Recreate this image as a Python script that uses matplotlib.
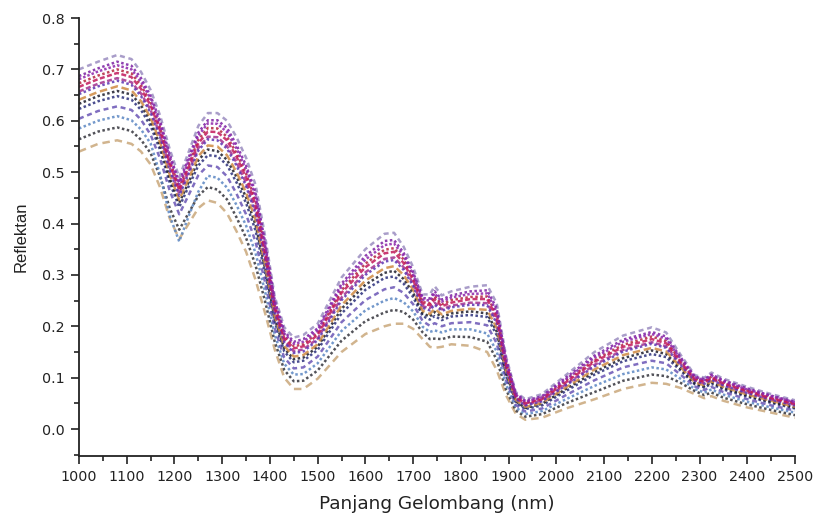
import matplotlib
matplotlib.use("Agg")
import matplotlib.pyplot as plt
from matplotlib.ticker import MultipleLocator

plt.rcParams['font.family'] = ['DejaVu Sans']

wavelength = [1000, 1040, 1080, 1110, 1130, 1150, 1170, 1190, 1210, 1230, 1250, 1270, 1290, 1310,
              1330, 1350, 1370, 1390, 1410, 1430, 1450, 1470, 1500, 1550, 1600, 1640, 1660, 1680,
              1700, 1720, 1735, 1745, 1760, 1780, 1820, 1855, 1875, 1895, 1915, 1935, 1970, 2020,
              2080, 2140, 2200, 2230, 2260, 2290, 2310, 2325, 2350, 2400, 2450, 2500]

s01 = [0.700, 0.715, 0.728, 0.720, 0.695, 0.660, 0.610, 0.545, 0.490, 0.540, 0.590, 0.615, 0.615, 0.600,
       0.568, 0.528, 0.475, 0.375, 0.258, 0.198, 0.178, 0.183, 0.205, 0.295, 0.350, 0.380, 0.382, 0.355,
       0.315, 0.262, 0.262, 0.278, 0.260, 0.268, 0.277, 0.280, 0.245, 0.140, 0.072, 0.058, 0.068, 0.105,
       0.150, 0.182, 0.198, 0.188, 0.145, 0.105, 0.100, 0.110, 0.098, 0.082, 0.068, 0.056]
s02 = [0.687, 0.702, 0.715, 0.707, 0.683, 0.648, 0.599, 0.534, 0.480, 0.529, 0.577, 0.601, 0.601, 0.586,
       0.553, 0.513, 0.460, 0.363, 0.250, 0.190, 0.170, 0.175, 0.196, 0.283, 0.337, 0.366, 0.368, 0.343,
       0.305, 0.255, 0.254, 0.268, 0.252, 0.260, 0.268, 0.270, 0.235, 0.134, 0.069, 0.055, 0.064, 0.100,
       0.143, 0.174, 0.189, 0.180, 0.140, 0.102, 0.097, 0.106, 0.095, 0.079, 0.065, 0.053]
s03 = [0.673, 0.688, 0.700, 0.692, 0.669, 0.635, 0.586, 0.522, 0.470, 0.516, 0.563, 0.586, 0.585, 0.569,
       0.537, 0.497, 0.444, 0.350, 0.241, 0.181, 0.161, 0.165, 0.187, 0.270, 0.322, 0.349, 0.352, 0.330,
       0.295, 0.247, 0.245, 0.258, 0.243, 0.251, 0.257, 0.258, 0.223, 0.127, 0.065, 0.051, 0.060, 0.094,
       0.134, 0.164, 0.180, 0.171, 0.134, 0.099, 0.093, 0.102, 0.091, 0.075, 0.062, 0.050]
s04 = [0.657, 0.672, 0.683, 0.675, 0.653, 0.621, 0.572, 0.509, 0.458, 0.502, 0.547, 0.569, 0.568, 0.551,
       0.519, 0.479, 0.425, 0.335, 0.230, 0.172, 0.151, 0.155, 0.176, 0.256, 0.305, 0.331, 0.334, 0.315,
       0.283, 0.239, 0.235, 0.246, 0.233, 0.240, 0.246, 0.245, 0.210, 0.120, 0.061, 0.047, 0.056, 0.087,
       0.125, 0.154, 0.169, 0.161, 0.127, 0.095, 0.089, 0.098, 0.086, 0.071, 0.058, 0.047]
s05 = [0.641, 0.656, 0.667, 0.659, 0.638, 0.606, 0.558, 0.495, 0.446, 0.488, 0.531, 0.552, 0.550, 0.533,
       0.500, 0.460, 0.407, 0.320, 0.220, 0.162, 0.141, 0.144, 0.165, 0.241, 0.289, 0.313, 0.317, 0.300,
       0.271, 0.230, 0.224, 0.234, 0.223, 0.230, 0.234, 0.232, 0.197, 0.112, 0.057, 0.043, 0.051, 0.081,
       0.116, 0.144, 0.158, 0.151, 0.121, 0.091, 0.085, 0.093, 0.082, 0.067, 0.055, 0.043]
s06 = [0.623, 0.638, 0.648, 0.641, 0.621, 0.590, 0.543, 0.480, 0.432, 0.473, 0.513, 0.533, 0.531, 0.514,
       0.480, 0.440, 0.386, 0.303, 0.209, 0.151, 0.130, 0.133, 0.154, 0.225, 0.271, 0.294, 0.297, 0.283,
       0.257, 0.220, 0.213, 0.220, 0.212, 0.219, 0.222, 0.218, 0.183, 0.104, 0.052, 0.039, 0.046, 0.074,
       0.106, 0.132, 0.146, 0.140, 0.114, 0.087, 0.081, 0.088, 0.077, 0.063, 0.051, 0.040]
s07 = [0.604, 0.619, 0.628, 0.621, 0.602, 0.573, 0.526, 0.464, 0.418, 0.456, 0.494, 0.513, 0.510, 0.492,
       0.458, 0.418, 0.364, 0.285, 0.196, 0.139, 0.118, 0.120, 0.141, 0.208, 0.251, 0.272, 0.276, 0.265,
       0.243, 0.210, 0.201, 0.206, 0.200, 0.206, 0.208, 0.202, 0.167, 0.095, 0.047, 0.034, 0.040, 0.066,
       0.095, 0.120, 0.133, 0.128, 0.106, 0.083, 0.076, 0.082, 0.072, 0.058, 0.046, 0.036]
s08 = [0.585, 0.600, 0.609, 0.601, 0.583, 0.556, 0.495, 0.415, 0.365, 0.415, 0.462, 0.493, 0.489, 0.470,
       0.436, 0.396, 0.342, 0.267, 0.184, 0.127, 0.106, 0.107, 0.128, 0.191, 0.231, 0.250, 0.255, 0.247,
       0.229, 0.199, 0.189, 0.192, 0.188, 0.194, 0.194, 0.186, 0.151, 0.086, 0.042, 0.029, 0.035, 0.058,
       0.084, 0.107, 0.120, 0.116, 0.098, 0.078, 0.071, 0.077, 0.067, 0.053, 0.042, 0.032]
s09 = [0.564, 0.579, 0.587, 0.580, 0.563, 0.537, 0.491, 0.430, 0.388, 0.421, 0.454, 0.471, 0.466, 0.447,
       0.412, 0.372, 0.318, 0.248, 0.170, 0.115, 0.093, 0.094, 0.114, 0.172, 0.210, 0.227, 0.232, 0.228,
       0.213, 0.188, 0.175, 0.176, 0.175, 0.180, 0.179, 0.170, 0.135, 0.076, 0.036, 0.024, 0.029, 0.050,
       0.072, 0.094, 0.106, 0.103, 0.090, 0.074, 0.066, 0.071, 0.061, 0.048, 0.037, 0.027]
s10 = [0.540, 0.555, 0.562, 0.555, 0.540, 0.515, 0.470, 0.410, 0.370, 0.400, 0.430, 0.445, 0.440, 0.420,
       0.385, 0.345, 0.290, 0.225, 0.155, 0.100, 0.078, 0.078, 0.098, 0.150, 0.185, 0.200, 0.205, 0.205,
       0.195, 0.175, 0.160, 0.158, 0.160, 0.165, 0.162, 0.150, 0.115, 0.065, 0.030, 0.018, 0.022, 0.040,
       0.058, 0.078, 0.090, 0.088, 0.080, 0.068, 0.060, 0.064, 0.055, 0.042, 0.032, 0.022]
s11 = [0.681, 0.696, 0.708, 0.700, 0.676, 0.643, 0.593, 0.529, 0.476, 0.523, 0.571, 0.595, 0.594, 0.578,
       0.546, 0.506, 0.453, 0.357, 0.246, 0.186, 0.166, 0.170, 0.192, 0.278, 0.330, 0.358, 0.361, 0.337,
       0.301, 0.252, 0.250, 0.264, 0.248, 0.256, 0.263, 0.264, 0.229, 0.131, 0.067, 0.053, 0.062, 0.097,
       0.139, 0.170, 0.185, 0.176, 0.137, 0.101, 0.095, 0.104, 0.093, 0.077, 0.064, 0.052]
s12 = [0.666, 0.681, 0.693, 0.685, 0.662, 0.630, 0.581, 0.517, 0.465, 0.511, 0.556, 0.579, 0.578, 0.562,
       0.530, 0.490, 0.436, 0.343, 0.236, 0.177, 0.157, 0.161, 0.183, 0.265, 0.315, 0.342, 0.345, 0.323,
       0.290, 0.244, 0.241, 0.253, 0.239, 0.246, 0.253, 0.253, 0.218, 0.124, 0.063, 0.050, 0.058, 0.091,
       0.131, 0.160, 0.175, 0.167, 0.131, 0.097, 0.092, 0.100, 0.089, 0.074, 0.060, 0.049]
s13 = [0.652, 0.667, 0.678, 0.670, 0.648, 0.616, 0.568, 0.504, 0.454, 0.498, 0.542, 0.564, 0.562, 0.546,
       0.513, 0.473, 0.419, 0.330, 0.227, 0.169, 0.148, 0.151, 0.173, 0.251, 0.300, 0.326, 0.329, 0.310,
       0.279, 0.236, 0.231, 0.242, 0.230, 0.237, 0.242, 0.241, 0.206, 0.117, 0.059, 0.046, 0.054, 0.085,
       0.122, 0.151, 0.166, 0.158, 0.125, 0.094, 0.088, 0.096, 0.085, 0.070, 0.057, 0.046]
s14 = [0.633, 0.648, 0.658, 0.651, 0.630, 0.599, 0.551, 0.488, 0.440, 0.481, 0.523, 0.544, 0.541, 0.524,
       0.491, 0.451, 0.397, 0.312, 0.215, 0.157, 0.136, 0.139, 0.160, 0.234, 0.281, 0.304, 0.308, 0.292,
       0.265, 0.225, 0.219, 0.228, 0.218, 0.225, 0.229, 0.225, 0.190, 0.108, 0.054, 0.041, 0.049, 0.078,
       0.111, 0.138, 0.153, 0.146, 0.118, 0.089, 0.083, 0.091, 0.080, 0.065, 0.053, 0.042]

spectra = [s10, s09, s08, s07, s01, s06, s14, s05, s04, s13, s03, s12, s02, s11]
colors = ['#c9a77a', '#34343c', '#5b86c2', '#6a55b5', '#9a8cc0', '#2b2f7c', '#1c1c2a', '#cf8a42',
          '#a2308e', '#5e35b1', '#b3243e', '#c2185b', '#7b1fa2', '#8e24aa']
styles = [(0, (3, 2)), (0, (1, 1)), (0, (1, 1)), (0, (2, 1.5)), (0, (2, 1.5)), (0, (1, 1)), (0, (1, 1)),
          (0, (3, 1.5)), (0, (2, 1)), (0, (1, 1)), (0, (1, 1)), (0, (2, 1)), (0, (1, 1)), (0, (1, 0.8))]

fig = plt.figure(figsize=(8.16, 5.25), dpi=100)
ax = fig.add_axes([0.0968, 0.1314, 0.8775, 0.8343])

for s, c, ls in zip(spectra, colors, styles):
    ax.plot(wavelength, s, color=c, lw=1.8, ls=ls, alpha=0.85)

ax.set_xlim(1000, 2500)
ax.set_ylim(-0.0525, 0.8)
ax.xaxis.set_major_locator(MultipleLocator(100))
ax.xaxis.set_minor_locator(MultipleLocator(50))
ax.yaxis.set_minor_locator(MultipleLocator(0.05))
ax.set_yticks([0.0, 0.1, 0.2, 0.3, 0.4, 0.5, 0.6, 0.7, 0.8])
ax.set_yticklabels(['0.0', '0.1', '0.2', '0.3', '0.4', '0.5', '0.6', '0.7', '0.8'])
for side in ['top', 'right']:
    ax.spines[side].set_visible(False)
for side in ['left', 'bottom']:
    ax.spines[side].set_linewidth(1.3)
    ax.spines[side].set_color('#222222')
ax.tick_params(which='major', direction='out', length=6, width=1.2, labelsize=10.3, colors='#222222', pad=4)
ax.tick_params(which='minor', direction='out', length=3.5, width=1.2, colors='#222222')
ax.set_xlabel('Panjang Gelombang (nm)', fontsize=13.3, labelpad=8, color='#222222')
ax.set_ylabel('Reflektan', family=['Liberation Sans', 'DejaVu Sans'], fontsize=12, labelpad=10, color='#222222')

fig.savefig('out.png', dpi=100)
